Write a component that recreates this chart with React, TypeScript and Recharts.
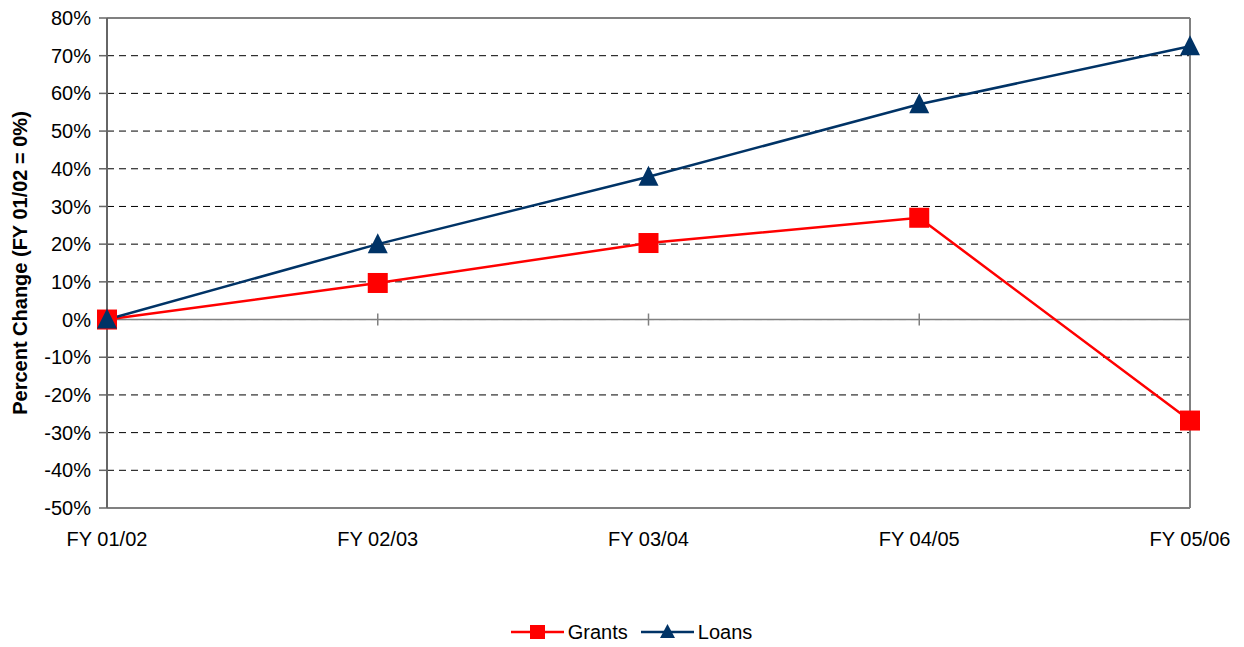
import React from 'react';
import { LineChart, Line, XAxis, YAxis, CartesianGrid, ReferenceLine, Legend } from 'recharts';

const categories = ['FY 01/02', 'FY 02/03', 'FY 03/04', 'FY 04/05', 'FY 05/06'];
const grants = [0, 9.7, 20.3, 27.0, -26.8];
const loans = [0, 20.0, 37.9, 57.1, 72.5];
const yTicks = [-50, -40, -30, -20, -10, 0, 10, 20, 30, 40, 50, 60, 70, 80];

const data = categories.map((c, i) => ({ cat: c, Grants: grants[i], Loans: loans[i] }));

const RED = '#FF0000';
const NAVY = '#003366';
const FONT = '"Liberation Sans", Arial, sans-serif';

const SquareDot = (props: any) => {
  const { cx, cy } = props;
  if (cx == null || cy == null) return null;
  return <rect x={cx - 10} y={cy - 10} width={20} height={20} fill={RED} />;
};

const TriangleDot = (props: any) => {
  const { cx, cy } = props;
  if (cx == null || cy == null) return null;
  return <polygon points={`${cx},${cy - 11} ${cx + 10},${cy + 9} ${cx - 10},${cy + 9}`} fill={NAVY} />;
};

const LegendContent = () => (
  <div style={{ display: 'flex', justifyContent: 'center', alignItems: 'center', height: 24, fontFamily: FONT, fontSize: 20, color: '#000', paddingLeft: 73 }}>
    <svg width={53} height={20} style={{ marginRight: 4 }}>
      <line x1={0} y1={10} x2={53} y2={10} stroke={RED} strokeWidth={2.5} />
      <rect x={19} y={3} width={15} height={14} fill={RED} />
    </svg>
    <span style={{ marginRight: 13 }}>Grants</span>
    <svg width={53} height={20} style={{ marginRight: 4 }}>
      <line x1={0} y1={10} x2={53} y2={10} stroke={NAVY} strokeWidth={2.5} />
      <polygon points="26.5,2 34,16 19,16" fill={NAVY} />
    </svg>
    <span>Loans</span>
  </div>
);

const YTitle = (props: any) => {
  const vb = props.viewBox || {};
  const cx = (vb.x || 0) + 20;
  const cy = (vb.y || 0) + (vb.height || 0) / 2;
  return (
    <text x={cx} y={cy} transform={`rotate(-90, ${cx}, ${cy})`} textAnchor="middle" dominantBaseline="central"
      style={{ fontFamily: FONT, fontSize: 20, fontWeight: 'bold', fill: '#000' }}>
      Percent Change (FY 01/02 = 0%)
    </text>
  );
};

export default function App() {
  return (
    <div style={{ position: 'absolute', left: 0, top: 0, width: 1244, height: 647, background: '#fff' }}>
      <LineChart width={1244} height={647} data={data} margin={{ top: 18, right: 54, left: 0, bottom: 3 }}>
        <CartesianGrid vertical={false} stroke="#000" strokeDasharray="7 5" strokeWidth={1} />
        <XAxis dataKey="cat" height={112} tickSize={0} tickMargin={24} axisLine={{ stroke: '#808080', strokeWidth: 2 }}
          tick={{ fontFamily: FONT, fontSize: 20, fill: '#000' }} interval={0} />
        <YAxis domain={[-50, 80]} ticks={yTicks} width={107} tickFormatter={(v: number) => `${v}%`}
          tickSize={8} tickMargin={8} interval={0}
          axisLine={{ stroke: '#666', strokeWidth: 2 }} tickLine={{ stroke: '#666', strokeWidth: 1.5 }}
          tick={{ fontFamily: FONT, fontSize: 20, fill: '#000' }}
          label={<YTitle />} />
        <ReferenceLine y={80} stroke="#808080" strokeWidth={2} />
        <ReferenceLine x={categories[categories.length - 1]} stroke="#808080" strokeWidth={2} />
        <ReferenceLine y={0} stroke="#808080" strokeWidth={1.5} />
        {categories.map((c) => (
          <ReferenceLine key={c} segment={[{ x: c, y: 1.6 }, { x: c, y: -1.6 }]} stroke="#808080" strokeWidth={1.5} />
        ))}
        <Legend verticalAlign="bottom" content={<LegendContent />} />
        <Line type="linear" dataKey="Grants" stroke={RED} strokeWidth={2.5} dot={<SquareDot />} activeDot={false} isAnimationActive={false} />
        <Line type="linear" dataKey="Loans" stroke={NAVY} strokeWidth={2.5} dot={<TriangleDot />} activeDot={false} isAnimationActive={false} />
      </LineChart>
    </div>
  );
}
